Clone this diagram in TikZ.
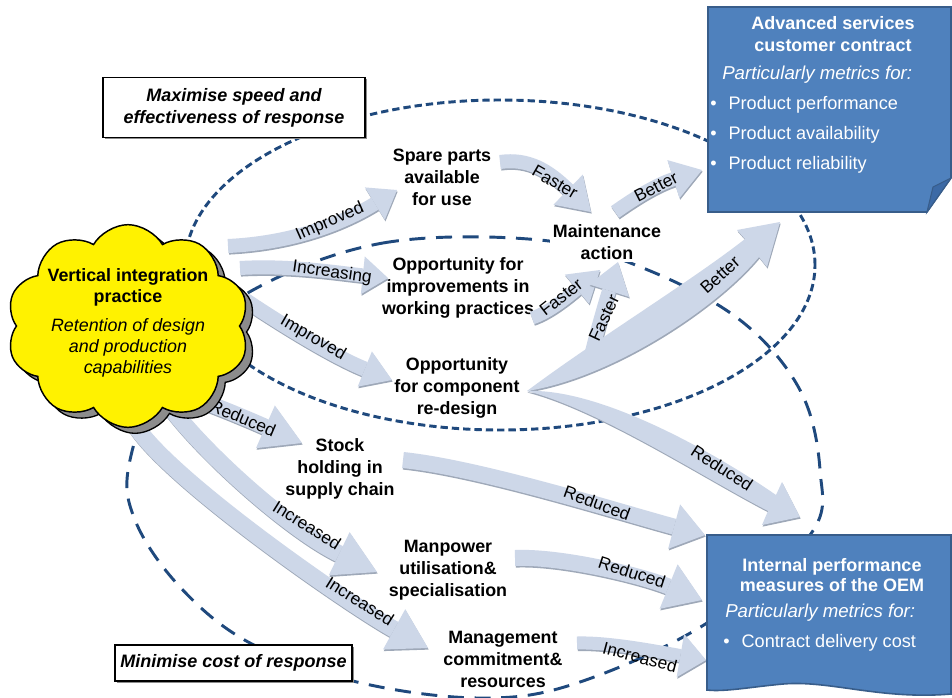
\documentclass[tikz,border=0pt]{standalone}
\usepackage{fontspec}
\setmainfont{Liberation Sans}
\usetikzlibrary{arrows.meta,shapes.symbols}
\definecolor{dashblue}{HTML}{1F497D}
\definecolor{boxblue}{HTML}{4F81BD}
\definecolor{boxedge}{HTML}{385D8A}
\definecolor{foldblue}{HTML}{3C6AA6}
\definecolor{arrfill}{HTML}{CDD7E8}
\definecolor{arredge}{HTML}{9EA8B8}
\definecolor{cloudgrey}{HTML}{8C8C8C}
\tikzset{
  dashA/.style={draw=dashblue, line width=2.2pt, dash pattern=on 5.5pt off 3pt},
  dashC/.style={draw=dashblue, line width=2.2pt, dash pattern=on 12pt off 8pt},
  lbl/.style={font=\fontsize{13.4}{16.5}\selectfont\bfseries, align=center},
  arrlbl/.style={font=\fontsize{13}{15}\selectfont},
  cloudtxt/.style={font=\fontsize{13.4}{16}\selectfont, align=center},
  goalbox/.style={draw=black, line width=1pt, fill=white, align=center,
    font=\fontsize{13.5}{16.5}\selectfont\bfseries\itshape,
    preaction={fill=black!45, transform canvas={xshift=1.3pt,yshift=-1.3pt}}},
  boxtitle/.style={text=white, font=\fontsize{13.5}{16.5}\selectfont\bfseries, align=center},
  boxital/.style={text=white, font=\fontsize{14}{16}\selectfont\itshape},
  boxbul/.style={text=white, font=\fontsize{13.6}{22.5}\selectfont, align=left},
  cloudshape/.style={cloud, cloud puffs=10, cloud puff arc=120, minimum width=182pt, minimum height=152pt},
}
\newcommand{\fatarrow}[4]{%
  \draw[line width=#1, draw=arredge, transform canvas={xshift=0.5pt,yshift=-1.2pt},
    -{Triangle[length=#2,width=#3,line width=0pt]}] #4;
  \draw[line width=#1, draw=arrfill, -{Triangle[length=#2,width=#3,line width=0pt]}] #4;}
\newcommand{\taperarrow}[1]{%
  \fill[arredge, transform canvas={xshift=0.5pt,yshift=-1.2pt}] #1;
  \fill[arrfill] #1;}
\begin{document}
\begin{tikzpicture}[x=0.75pt,y=-0.75pt, every node/.style={inner sep=0pt}]
\useasboundingbox (0,0) rectangle (952,697);
\fill[white] (0,0) rectangle (952,697);

% dashed regions
\draw[dashA] (500,265) ellipse [x radius=236.25pt, y radius=123.75pt];
\draw[dashC] plot[smooth cycle, tension=0.6] coordinates {(253,290) (383,243) (540,240) (643,268) (740,320) (800,390) (820,470) (810,535) (707,623) (577,683) (480,698) (357,682) (250,643) (180,587) (135,520) (130,460) (170,360)};

% text nodes
\node[lbl] (spare) at (442,177) {Spare parts\\available\\for use};
\node[lbl, fill=white, inner sep=2pt] (maint) at (607,242) {Maintenance\\action};
\node[lbl] (improv) at (458,288) {Opportunity for\\improvements in\\working practices};
\node[lbl] (redesign) at (457,388) {Opportunity\\for component\\re-design};
\node[lbl] (stock) at (340,469) {Stock\\holding in\\supply chain};
\node[lbl] (manpower) at (448,570) {Manpower\\utilisation\&\\specialisation};
\node[lbl] (mgmt) at (503,659) {Management\\commitment\&\\resources};

% arrow end points
\coordinate (a1s) at (228,246);  \coordinate (a1e) at (397,190);
\coordinate (a2s) at (240,268);  \coordinate (a2e) at (388,278);
\coordinate (a3s) at (245,300);  \coordinate (a3e) at (392,380);
\coordinate (a4s) at (185,395);  \coordinate (a4e) at (302,443);
\coordinate (a5s) at (165,400);  \coordinate (a5e) at (377,572);
\coordinate (a6s) at (135,425);  \coordinate (a6e) at (428,648);
\coordinate (a7s) at (500,162);  \coordinate (a7e) at (591,212);
\coordinate (a8s) at (532,318);  \coordinate (a8e) at (600,270);
\coordinate (a9s) at (590,360);  \coordinate (a9e) at (618,262);
\coordinate (a10s) at (615,212); \coordinate (a10e) at (702,170);
\coordinate (a13s) at (403,460); \coordinate (a13e) at (705,535);
\coordinate (a14s) at (515,558); \coordinate (a14e) at (702,600);
\coordinate (a15s) at (577,643); \coordinate (a15e) at (706,660);
\coordinate (rd) at (527,391);

% fat arrows
\fatarrow{10.5pt}{19.5pt}{28.5pt}{(a1s) .. controls (290,243) and (340,225) .. (a1e)}
\fatarrow{10.5pt}{19pt}{28.5pt}{(a2s) .. controls (290,265) and (340,273) .. (a2e)}
\fatarrow{11.25pt}{22pt}{28.5pt}{(a3s) .. controls (275,320) and (330,355) .. (a3e)}
\fatarrow{12pt}{30pt}{35pt}{(a4s) .. controls (215,405) and (250,420) .. (a4e)}
\fatarrow{12.75pt}{31.5pt}{36pt}{(a5s) .. controls (200,450) and (290,530) .. (a5e)}
\fatarrow{12.75pt}{29pt}{34.5pt}{(a6s) .. controls (170,480) and (350,605) .. (a6e)}
\fatarrow{10.5pt}{24pt}{31.5pt}{(a7s) .. controls (528,158) and (548,170) .. (a7e)}
\fatarrow{9.75pt}{22.5pt}{28.5pt}{(a8s) .. controls (550,312) and (570,295) .. (a8e)}
\fatarrow{10.5pt}{22.5pt}{31.5pt}{(a9s) .. controls (596,335) and (603,310) .. (a9e)}
\fatarrow{10.5pt}{22.5pt}{30pt}{(a10s) .. controls (632,200) and (655,185) .. (a10e)}
\fatarrow{12pt}{24pt}{34.5pt}{(a13s) .. controls (480,468) and (620,512) .. (a13e)}
\fatarrow{12pt}{27pt}{36pt}{(a14s) .. controls (560,556) and (640,575) .. (a14e)}
\fatarrow{9.75pt}{19.5pt}{33pt}{(a15s) .. controls (610,642) and (660,652) .. (a15e)}
% tapered arrows from re-design
\taperarrow{(rd) .. controls (595,340) and (690,282) .. (745,239) -- (737,230) -- (780,222) -- (767,267) -- (759,257) .. controls (715,310) and (610,378) .. (rd) -- cycle}
\taperarrow{(rd) .. controls (600,388) and (714,452) .. (776,495) -- (782,482) -- (800,517) -- (762,525) -- (768,511) .. controls (704,478) and (600,410) .. (rd) -- cycle}

% arrow labels
\node[arrlbl, rotate=24] (l1) at (330,222) {Improved};
\node[arrlbl, rotate=-8] (l2) at (332,273) {Increasing};
\node[arrlbl, rotate=-30] (l3) at (313,338) {Improved};
\node[arrlbl, rotate=-23] (l4) at (243,418) {Reduced};
\node[arrlbl, rotate=-32] (l5) at (307,525) {Increased};
\node[arrlbl, rotate=-32] (l6) at (360,601) {Increased};
\node[arrlbl, rotate=-30] (l7) at (555,182) {Faster};
\node[arrlbl, rotate=38] (l8) at (561,297) {Faster};
\node[arrlbl, rotate=65] (l9) at (604,318) {Faster};
\node[arrlbl, rotate=27] (l10) at (656,187) {Better};
\node[arrlbl, rotate=42] (l11) at (720,275) {Better};
\node[arrlbl, rotate=-33] (l12) at (722,468) {Reduced};
\node[arrlbl, rotate=-20] (l13) at (597,503) {Reduced};
\node[arrlbl, rotate=-18] (l14) at (632,572) {Reduced};
\node[arrlbl, rotate=-15] (l15) at (640,657) {Increased};

% goal boxes
\node[goalbox, minimum width=196.5pt, minimum height=45pt] (maxbox) at (234,107.5) {Maximise speed and\\effectiveness of response};
\node[goalbox, minimum width=177.75pt, minimum height=27pt] (minbox) at (233.5,663) {Minimise cost of response};

% top blue box
\fill[boxblue] (708,7) -- (951,7) -- (951,178) -- (927,212) -- (708,212) -- cycle;
\draw[boxedge, line width=1.2pt] (708,7) -- (951,7) -- (951,178) -- (927,212) -- (708,212) -- cycle;
\filldraw[fill=foldblue, draw=boxedge, line width=0.8pt] (927,212) -- (933,187) -- (951,178) -- cycle;
\node[boxtitle] (advtitle) at (833,34) {Advanced services\\customer contract};
\node[boxital, anchor=west] (advsub) at (722,75) {Particularly metrics for:};
\node[boxbul, anchor=west] (advbul) at (710,135) {•\hspace{9pt}Product performance\\•\hspace{9pt}Product availability\\•\hspace{9pt}Product reliability};

% bottom blue box
\fill[boxblue] (707,535) -- (951,535) -- (951,694) .. controls (880,700) and (830,680) .. (783,684) .. controls (750,687) and (725,692) .. (707,690) -- cycle;
\draw[boxedge, line width=1.2pt] (707,535) -- (951,535) -- (951,694) .. controls (880,700) and (830,680) .. (783,684) .. controls (750,687) and (725,692) .. (707,690) -- cycle;
\node[boxtitle, font=\fontsize{13.5}{15}\selectfont\bfseries] (inttitle) at (832,575) {Internal performance\\measures of the OEM};
\node[boxital, anchor=west] (intsub) at (725,613) {Particularly metrics for:};
\node[boxbul, anchor=west] (intbul) at (723,643) {•\hspace{9pt}Contract delivery cost};

% cloud
\node[cloudshape, fill=cloudgrey, draw=black, line width=1pt] (cloudsh) at (135,332) {};
\node[cloudshape, fill=yellow, draw=black, line width=1.1pt] (cloud) at (128,326) {};
\node[cloudtxt] (cloudtext) at (128,323) {\textbf{Vertical integration}\\\textbf{practice}\\[5.5pt]\textit{Retention of design}\\\textit{and production}\\\textit{capabilities}};
\end{tikzpicture}
\end{document}
